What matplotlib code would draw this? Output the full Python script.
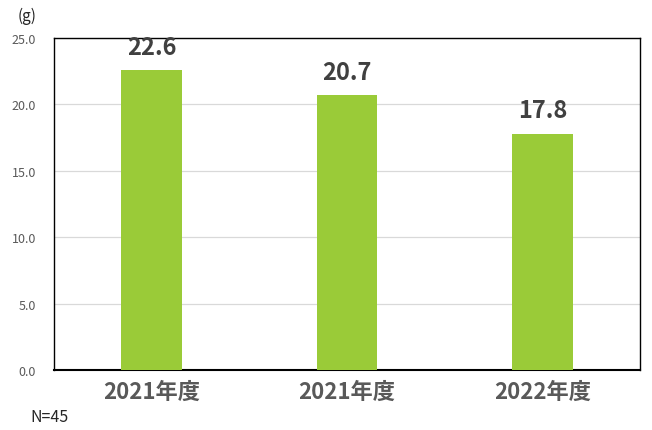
import numpy as np
import matplotlib.pyplot as plt

plt.rcParams['font.family'] = ['Noto Sans CJK JP', 'DejaVu Sans']

categories = ["2021年度", "2021年度", "2022年度"]
values = [22.6, 20.7, 17.8]
yticks = [0, 5, 10, 15, 20, 25]

fig = plt.figure(figsize=(6.52, 4.31), dpi=100)
ax = fig.add_axes([54 / 652, 1 - 371 / 431, 586 / 652, 332 / 431])

x = np.arange(len(categories))
ax.bar(x, values, width=0.31, color='#9ACB38', zorder=3)

for xi, v in zip(x, values):
    ax.text(xi, v + 0.85, f"{v:.1f}", ha='center', va='bottom',
            fontsize=17, fontweight='bold', color='#404040')

ax.set_xlim(-0.5, len(categories) - 0.5)
ax.set_ylim(0, 25)
ax.set_yticks(yticks)
ax.set_yticklabels([f"{t:.1f}" for t in yticks], fontsize=9, color='#595959')
ax.set_xticks(x)
ax.set_xticklabels(categories, fontsize=16, fontweight='bold', color='#595959')
ax.tick_params(axis='both', length=0)
ax.tick_params(axis='y', pad=13)
ax.tick_params(axis='x', pad=7)
ax.yaxis.grid(True, color='#D9D9D9', linewidth=0.9, zorder=0)
for s in ax.spines.values():
    s.set_color('black')
    s.set_linewidth(1.0)
ax.spines['bottom'].set_linewidth(1.5)

fig.text(18 / 652, 1 - 16 / 431, "(g)", fontsize=11, color='#262626', ha='left', va='center')
fig.text(30 / 652, 1 - 418 / 431, "N=45", fontsize=11.5, color='#262626', ha='left', va='center')

fig.savefig("out.png", dpi=100)
